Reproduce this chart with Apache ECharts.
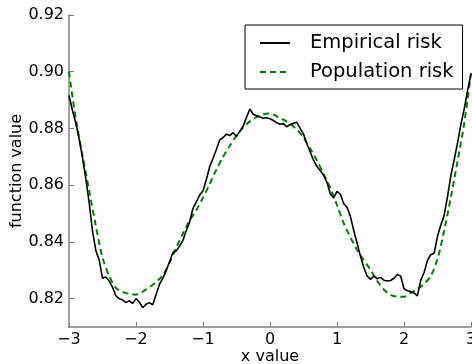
<!DOCTYPE html>
<html>
<head>
<meta charset="utf-8">
<script src="https://cdn.jsdelivr.net/npm/echarts@6/dist/echarts.min.js"></script>
<style>
html,body{margin:0;padding:0;background:#fff;}
#chart{width:472px;height:364px;}
</style>
</head>
<body>
<div id="chart"></div>
<script>
// x positions
const empX = [];
for (let i = 0; i <= 120; i++) empX.push(+(-3 + i * 0.05).toFixed(2));
const popX = [];
for (let i = 0; i <= 60; i++) popX.push(+(-3 + i * 0.1).toFixed(1));

// Empirical risk (step 0.05 from -3 to 3)
const empirical = [
  0.8916, 0.8865, 0.8820, 0.8765, 0.8700, 0.8625, 0.8540, 0.8440, 0.8370, 0.8337,
  0.8272, 0.8276, 0.8262, 0.8240, 0.8210, 0.8200, 0.8196, 0.8186, 0.8192, 0.8183,
  0.8200, 0.8188, 0.8168, 0.8180, 0.8186, 0.8178, 0.8215, 0.8250, 0.8272, 0.8298,
  0.8330, 0.8362, 0.8368, 0.8385, 0.8405, 0.8440, 0.8470, 0.8518, 0.8540, 0.8565,
  0.8580, 0.8620, 0.8665, 0.8695, 0.8726, 0.8760, 0.8768, 0.8780, 0.8775, 0.8785,
  0.8772, 0.8790, 0.8808, 0.8840, 0.8868, 0.8850, 0.8845, 0.8840, 0.8836, 0.8838,
  0.8834, 0.8828, 0.8820, 0.8815, 0.8817, 0.8806, 0.8814, 0.8818, 0.8822, 0.8800,
  0.8780, 0.8746, 0.8717, 0.8688, 0.8666, 0.8652, 0.8635, 0.8610, 0.8570, 0.8555,
  0.8578, 0.8568, 0.8535, 0.8522, 0.8490, 0.8440, 0.8395, 0.8350, 0.8310, 0.8280,
  0.8268, 0.8280, 0.8270, 0.8275, 0.8265, 0.8262, 0.8264, 0.8272, 0.8285, 0.8280,
  0.8235, 0.8228, 0.8225, 0.8220, 0.8210, 0.8265, 0.8292, 0.8335, 0.8355, 0.8360,
  0.8420, 0.8460, 0.8495, 0.8560, 0.8635, 0.8690, 0.8750, 0.8815, 0.8870, 0.8935,
  0.8993
];

// Population risk (step 0.1 from -3 to 3)
const population = [
  0.9000, 0.8836, 0.8707, 0.8582, 0.8457, 0.8345, 0.8280, 0.8238, 0.8224, 0.8217,
  0.8214, 0.8225, 0.8240, 0.8259, 0.8283, 0.8326, 0.8380, 0.8429, 0.8475, 0.8512,
  0.8556, 0.8604, 0.8655, 0.8700, 0.8739, 0.8775, 0.8804, 0.8825, 0.8840, 0.8850,
  0.8853, 0.8843, 0.8831, 0.8816, 0.8797, 0.8768, 0.8729, 0.8687, 0.8640, 0.8590,
  0.8530, 0.8466, 0.8416, 0.8372, 0.8335, 0.8302, 0.8262, 0.8232, 0.8213, 0.8207,
  0.8207, 0.8220, 0.8234, 0.8252, 0.8280, 0.8340, 0.8440, 0.8558, 0.8686, 0.8820,
  0.8995
];

const xTicks = [-3, -2, -1, 0, 1, 2, 3];
const yTicks = [0.82, 0.84, 0.86, 0.88, 0.90, 0.92];
const seriesNames = ['Empirical risk', 'Population risk'];

const font = 'DejaVu Sans';
const chart = echarts.init(document.getElementById('chart'), null, {renderer: 'canvas'});
chart.setOption({
  animation: false,
  backgroundColor: '#fff',
  grid: {left: 69, right: 1, top: 15, bottom: 37, containLabel: false, outerBoundsMode: 'none'},
  legend: {
    orient: 'vertical',
    left: 245, top: 25,
    padding: [8, 9, 7, 14],
    borderColor: '#000', borderWidth: 1,
    itemWidth: 30, itemHeight: 14, itemGap: 9,
    itemStyle: {opacity: 0},
    textStyle: {fontFamily: font, fontSize: 19.5, color: '#000', padding: [0, 0, 0, 15]},
    data: seriesNames
  },
  xAxis: {
    type: 'value', min: -3, max: 3, interval: 1,
    name: 'x value', nameLocation: 'middle', nameGap: 22, nameMoveOverlap: false,
    nameTextStyle: {fontFamily: font, fontSize: 16, color: '#000', verticalAlign: 'top'},
    axisLine: {show: true, onZero: false, lineStyle: {color: '#808080', width: 1.5}},
    axisTick: {show: true, inside: true, length: 5, lineStyle: {color: '#808080'}, customValues: xTicks},
    axisLabel: {fontFamily: font, fontSize: 16, color: '#000', margin: 5, customValues: xTicks,
      formatter: v => String(v).replace('-', '\u2212')},
    splitLine: {show: false}
  },
  yAxis: {
    type: 'value', min: 0.81, max: 0.92,
    name: 'function value', nameLocation: 'middle', nameGap: 44, nameMoveOverlap: false,
    nameTextStyle: {fontFamily: font, fontSize: 16, color: '#000'},
    axisLine: {show: true, onZero: false, lineStyle: {color: '#808080', width: 1.5}},
    axisTick: {show: true, inside: true, length: 5, lineStyle: {color: '#808080'}, customValues: yTicks},
    axisLabel: {fontFamily: font, fontSize: 16, color: '#000', margin: 5, customValues: yTicks,
      formatter: v => v.toFixed(2)},
    splitLine: {show: false}
  },
  series: [
    {
      name: seriesNames[0], type: 'line', showSymbol: false, symbol: 'none',
      data: empX.map((x, i) => [x, empirical[i]]),
      lineStyle: {color: '#000', width: 1.6},
      itemStyle: {color: '#000'},
      z: 3
    },
    {
      name: seriesNames[1], type: 'line', showSymbol: false, symbol: 'none', smooth: 0.3,
      data: popX.map((x, i) => [x, population[i]]),
      lineStyle: {color: '#008000', width: 2, type: [6, 4]},
      itemStyle: {color: '#008000'},
      z: 2
    }
  ]
});
</script>
</body>
</html>
